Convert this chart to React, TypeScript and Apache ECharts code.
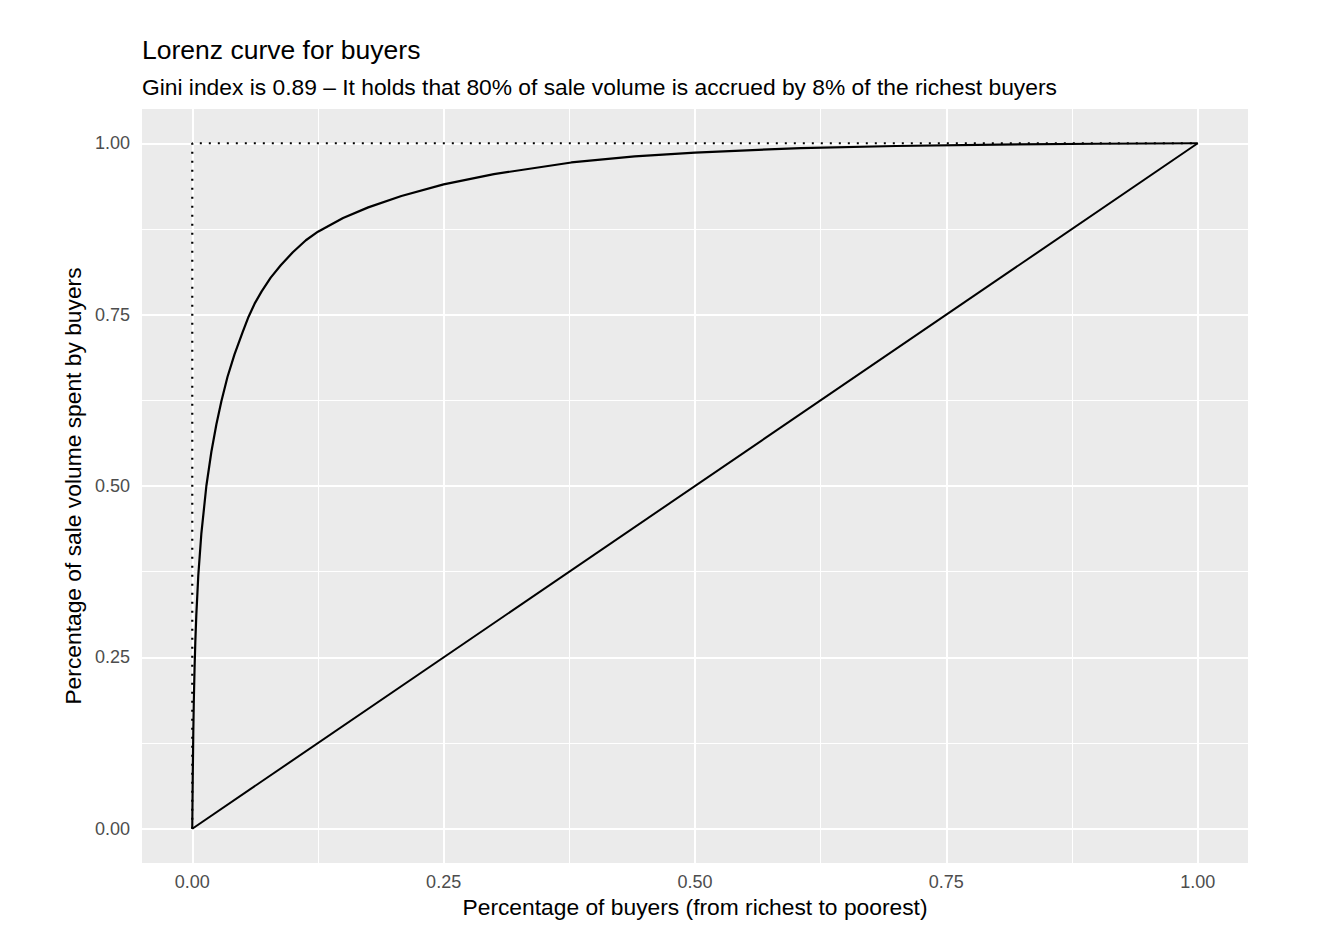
import React, { useEffect, useRef } from "react";
import * as echarts from "echarts";

const titleText = "Lorenz curve for buyers";
const subtitleText =
  "Gini index is 0.89 \u2013 It holds that 80% of sale volume is accrued by 8% of the richest buyers";
const xAxisTitle = "Percentage of buyers (from richest to poorest)";
const yAxisTitle = "Percentage of sale volume spent by buyers";

const tickValues = [0, 0.25, 0.5, 0.75, 1];
const minorValues = [0.125, 0.375, 0.625, 0.875];

const lorenzX = [
  0, 0.0005, 0.001, 0.0015, 0.0023, 0.003, 0.004, 0.006, 0.009, 0.014, 0.019,
  0.024, 0.029, 0.035, 0.042, 0.05, 0.056, 0.062, 0.069, 0.078, 0.088, 0.1,
  0.113, 0.125, 0.15, 0.175, 0.208, 0.25, 0.3, 0.377, 0.44, 0.5, 0.605, 0.7,
  0.8, 0.9, 1,
];
const lorenzY = [
  0, 0.079, 0.139, 0.184, 0.236, 0.271, 0.311, 0.37, 0.43, 0.5, 0.55, 0.59,
  0.624, 0.659, 0.692, 0.724, 0.747, 0.766, 0.784, 0.804, 0.822, 0.841,
  0.8585, 0.871, 0.891, 0.9065, 0.923, 0.94, 0.955, 0.972, 0.981, 0.9864,
  0.993, 0.996, 0.998, 0.9993, 1,
];
const equalityLine = [
  [0, 0],
  [1, 1],
];
const perfectInequality = [
  [0, 0],
  [0, 1],
  [1, 1],
];

const fontFamily = "'Liberation Sans', Arial, Helvetica, sans-serif";

export default function App() {
  const ref = useRef<HTMLDivElement>(null);
  useEffect(() => {
    if (!ref.current) return;
    const chart = echarts.init(ref.current, null, { renderer: "svg" });
    const lo = -0.05;
    const hi = 1.05;
    const gridLines: any[] = [];
    tickValues.forEach((v) => {
      gridLines.push([
        { coord: [v, lo], lineStyle: { width: 2 } },
        { coord: [v, hi] },
      ]);
      gridLines.push([
        { coord: [lo, v], lineStyle: { width: 2 } },
        { coord: [hi, v] },
      ]);
    });
    minorValues.forEach((v) => {
      gridLines.push([
        { coord: [v, lo], lineStyle: { width: 1 } },
        { coord: [v, hi] },
      ]);
      gridLines.push([
        { coord: [lo, v], lineStyle: { width: 1 } },
        { coord: [hi, v] },
      ]);
    });
    const labelFmt = (v: number) => v.toFixed(2);
    chart.setOption({
      animation: false,
      backgroundColor: "#ffffff",
      textStyle: { fontFamily },
      title: [
        {
          text: titleText,
          left: 137,
          top: 31,
          textStyle: { fontSize: 26.5, fontWeight: "normal", color: "#000", fontFamily },
        },
        {
          text: subtitleText,
          left: 137,
          top: 70,
          textStyle: { fontSize: 22.8, fontWeight: "normal", color: "#000", fontFamily },
        },
      ],
      grid: {
        left: 142,
        right: 76,
        top: 109,
        bottom: 89,
        show: true,
        backgroundColor: "#ebebeb",
        borderWidth: 0,
      },
      xAxis: {
        type: "value",
        min: lo,
        max: hi,
        name: xAxisTitle,
        nameLocation: "middle",
        nameGap: 32,
        nameTextStyle: { fontSize: 22.8, color: "#000", fontFamily },
        axisLine: { show: false },
        splitLine: { show: false },
        axisTick: {
          show: true,
          customValues: tickValues,
          length: 4,
          lineStyle: { color: "#333", width: 1.5 },
        },
        axisLabel: {
          customValues: tickValues,
          formatter: labelFmt,
          fontSize: 18,
          color: "#4d4d4d",
          margin: 10,
          fontFamily,
        },
      },
      yAxis: {
        type: "value",
        min: lo,
        max: hi,
        name: yAxisTitle,
        nameLocation: "middle",
        nameGap: 46,
        nameTextStyle: { fontSize: 22.8, color: "#000", fontFamily },
        axisLine: { show: false },
        splitLine: { show: false },
        axisTick: {
          show: true,
          customValues: tickValues,
          length: 4,
          lineStyle: { color: "#333", width: 1.5 },
        },
        axisLabel: {
          customValues: tickValues,
          formatter: labelFmt,
          fontSize: 18,
          color: "#4d4d4d",
          margin: 12,
          fontFamily,
        },
      },
      series: [
        {
          type: "line",
          data: [],
          silent: true,
          z: 1,
          markLine: {
            silent: true,
            z: 1,
            symbol: "none",
            label: { show: false },
            lineStyle: { color: "#ffffff", type: "solid", width: 2 },
            data: gridLines,
          },
        },
        {
          type: "line",
          data: lorenzX.map((x, i) => [x, lorenzY[i]]),
          showSymbol: false,
          symbol: "none",
          smooth: false,
          lineStyle: { color: "#000", width: 2.2, join: "round" },
          z: 6,
        },
        {
          type: "line",
          data: equalityLine,
          showSymbol: false,
          symbol: "none",
          lineStyle: { color: "#000", width: 2 },
          z: 6,
        },
        {
          type: "line",
          data: perfectInequality,
          showSymbol: false,
          symbol: "none",
          lineStyle: { color: "#000", width: 2.2, type: [2, 7] },
          z: 7,
        },
      ],
    });
    return () => chart.dispose();
  }, []);
  return <div ref={ref} style={{ width: 1324, height: 952, margin: -8 }} />;
}
